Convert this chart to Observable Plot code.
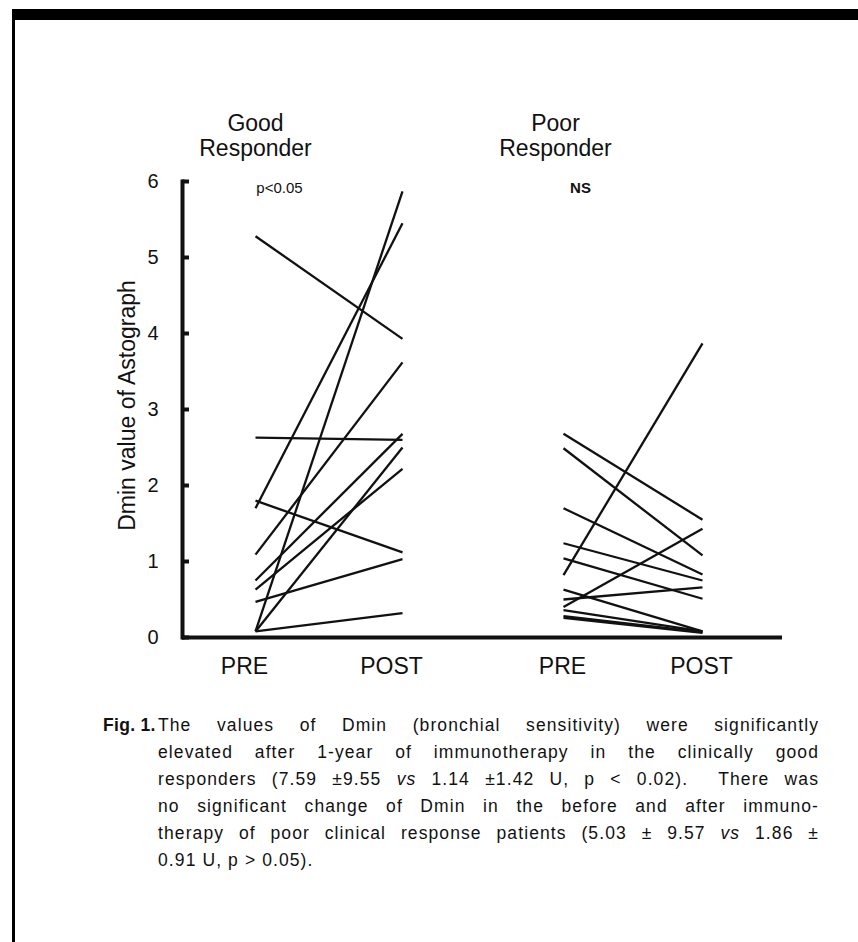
<!DOCTYPE html>
<html><head><meta charset="utf-8">
<script src="https://cdn.jsdelivr.net/npm/d3@7"></script>
<script src="https://cdn.jsdelivr.net/npm/@observablehq/plot@0.6"></script>
<style>
body{margin:0;background:#fff;}
#wrap{position:relative;width:858px;height:942px;overflow:hidden;font-family:"Liberation Sans",Arial,sans-serif;color:#111;}
#topbar{position:absolute;left:12px;top:9px;width:846px;height:11px;background:#000;}
#leftbar{position:absolute;left:12px;top:9px;width:3px;height:933px;background:#000;}
#chart{position:absolute;left:0;top:0;}
#caption{position:absolute;left:103px;top:712px;width:730px;font-size:17.5px;line-height:27px;letter-spacing:1.1px;}
#caption .fig{position:absolute;left:0;top:0;font-weight:bold;letter-spacing:0.3px;}
#caption .lines{position:absolute;left:55px;top:0;width:661px;}
#caption .ln{text-align:justify;text-align-last:justify;}
#caption .ln.last{text-align-last:left;}
</style>
</head><body>
<div id="wrap">
  <div id="topbar"></div>
  <div id="leftbar"></div>
  <div id="chart"></div>
  <div id="caption"></div>
</div>
<script>
// ---- data ----
const groups = ["Good", "Poor"];
const groupTitles = ["Good\nResponder", "Poor\nResponder"];
const groupStats = ["p<0.05", "NS"];
const phases = ["PRE", "POST"];
const yTicks = [0, 1, 2, 3, 4, 5, 6];
const yLabel = "Dmin value of Astograph";

const goodPre  = [5.28, 2.63, 1.80, 1.70, 1.09, 0.75, 0.63, 0.47, 0.08, 0.08, 0.08];
const goodPost = [3.93, 2.60, 1.12, 5.45, 3.62, 2.68, 2.22, 1.03, 5.87, 2.50, 0.32];

const poorPre  = [2.68, 2.49, 1.70, 1.24, 1.04, 0.82, 0.63, 0.50, 0.40, 0.36, 0.28, 0.26];
const poorPost = [1.55, 1.08, 0.83, 0.75, 0.51, 3.87, 0.08, 0.66, 1.43, 0.08, 0.07, 0.06];

const captionFig = "Fig. 1.";
const captionLines = [
  "The values of Dmin (bronchial sensitivity) were significantly",
  "elevated after 1-year of immunotherapy in the clinically good",
  "responders (7.59 ±9.55 <i>vs</i> 1.14 ±1.42 U, p &lt; 0.02).&nbsp; There was",
  "no significant change of Dmin in the before and after immuno-",
  "therapy of poor clinical response patients (5.03 ± 9.57 <i>vs</i> 1.86 ±",
  "0.91 U, p &gt; 0.05)."
];

// ---- build ----
// slot index per group/phase: Good PRE=0, Good POST=1, Poor PRE=2, Poor POST=3
const slot = (g, p) => groups.indexOf(g) * phases.length + phases.indexOf(p);
const slots = groups.flatMap(g => phases.map(p => slot(g, p)));
const pairs = [
  ...goodPre.map((v, i) => ({group: "Good", pre: v, post: goodPost[i]})),
  ...poorPre.map((v, i) => ({group: "Poor", pre: v, post: poorPost[i]}))
];
const titles = groups.map((g, i) => ({group: g, x: slot(g, "PRE"), title: groupTitles[i], stat: groupStats[i]}));
const goodT = titles.filter(d => d.group === "Good");
const poorT = titles.filter(d => d.group === "Poor");
const phaseLabel = s => phases[s % phases.length];

const chart = Plot.plot({
  width: 858,
  height: 690,
  marginLeft: 182,
  marginRight: 76,
  marginTop: 181,
  marginBottom: 53,
  x: {type: "linear", domain: slots, range: [255, 402, 563, 702]},
  y: {domain: [0, 6]},
  style: {fontFamily: "'Liberation Sans', Arial, sans-serif", color: "#111", background: "transparent"},
  marks: [
    Plot.link(pairs, {
      x1: d => slot(d.group, "PRE"), x2: d => slot(d.group, "POST"),
      y1: "pre", y2: "post",
      stroke: "#111", strokeWidth: 2.3
    }),
    Plot.ruleY([0], {stroke: "#111", strokeWidth: 4}),
    Plot.frame({anchor: "left", stroke: "#111", strokeWidth: 4}),
    Plot.tickY(yTicks, {y: d => d, insetRight: 593, stroke: "#111", strokeWidth: 4}),
    Plot.axisY(yTicks, {tickSize: 0, tickPadding: 24, fontSize: 20, label: null, tickFormat: d => String(d)}),
    Plot.axisX(slots.slice(0, 2), {tickSize: 0, tickPadding: 20, fontSize: 23, dx: -11, label: null, tickFormat: phaseLabel}),
    Plot.axisX(slots.slice(2), {tickSize: 0, tickPadding: 20, fontSize: 23, dx: -1, label: null, tickFormat: phaseLabel}),
    Plot.text([yLabel], {frameAnchor: "left", textAnchor: "middle", rotate: -90, dx: -55, dy: -4, fontSize: 23, text: d => d, style: "letter-spacing:0.4px"}),
    Plot.text(goodT, {x: "x", y: () => 6, text: "title", dy: -26, lineAnchor: "bottom", fontSize: 23, lineHeight: 1.05}),
    Plot.text(poorT, {x: "x", y: () => 6, text: "title", dx: -8, dy: -26, lineAnchor: "bottom", fontSize: 23, lineHeight: 1.05}),
    Plot.text(goodT, {x: "x", y: () => 6, text: "stat", dx: 24, dy: 7, fontSize: 15}),
    Plot.text(poorT, {x: "x", y: () => 6, text: "stat", dx: 17, dy: 7, fontSize: 15, fontWeight: "bold"})
  ]
});
document.getElementById("chart").appendChild(chart);

const cap = document.getElementById("caption");
cap.innerHTML = `<div class="fig">${captionFig}</div><div class="lines">` +
  captionLines.map((l, i) => `<div class="ln${i === captionLines.length - 1 ? " last" : ""}">${l}</div>`).join("") +
  `</div>`;
</script>
</body></html>
